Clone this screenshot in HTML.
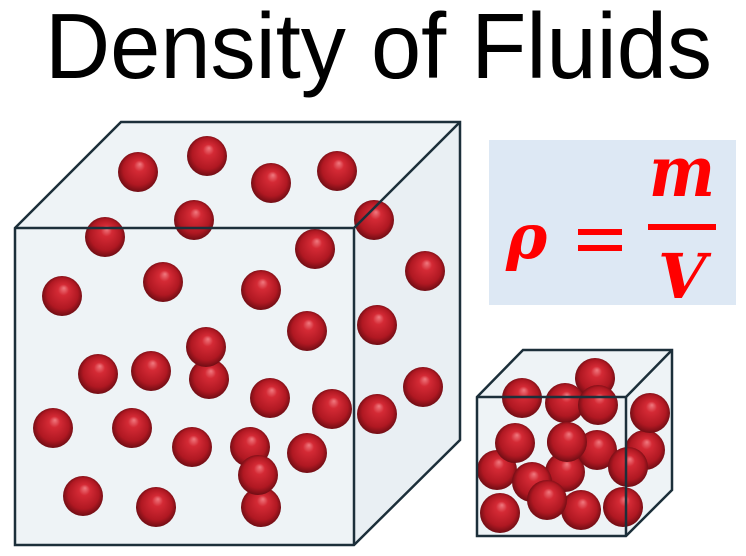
<!DOCTYPE html>
<html><head><meta charset="utf-8"><style>html,body{margin:0;padding:0;background:#fff;}svg{display:block}</style></head>
<body>
<svg width="746" height="556" viewBox="0 0 746 556" xmlns="http://www.w3.org/2000/svg">
<defs>
<radialGradient id="s" cx="0.5" cy="0.5" r="0.55" fx="0.55" fy="0.3">
<stop offset="0" stop-color="#f07a80"/>
<stop offset="0.25" stop-color="#d42a35"/>
<stop offset="0.7" stop-color="#b01822"/>
<stop offset="1" stop-color="#5e0a10"/>
</radialGradient>
</defs>
<text x="45" y="78" font-family="Liberation Sans, sans-serif" font-size="93" textLength="667" lengthAdjust="spacingAndGlyphs" fill="#000">Density of Fluids</text>

<!-- big cube -->
<polygon points="15,228 121,122 460,122 460,440 354,545 15,545" fill="#eef3f6"/>
<polygon points="354,228 460,122 460,440 354,545" fill="#e9eff3"/>
<g fill="url(#s)">
<circle cx="138" cy="172" r="20"/><circle cx="207" cy="156" r="20"/><circle cx="271" cy="183" r="20"/><circle cx="337" cy="171" r="20"/>
<circle cx="105" cy="237" r="20"/><circle cx="194" cy="220" r="20"/><circle cx="374" cy="220" r="20"/><circle cx="315" cy="249" r="20"/>
<circle cx="425" cy="271" r="20"/><circle cx="62" cy="296" r="20"/><circle cx="163" cy="282" r="20"/><circle cx="261" cy="290" r="20"/>
<circle cx="307" cy="331" r="20"/><circle cx="377" cy="325" r="20"/><circle cx="209" cy="379" r="20"/><circle cx="206" cy="347" r="20"/>
<circle cx="98" cy="374" r="20"/><circle cx="151" cy="371" r="20"/><circle cx="270" cy="398" r="20"/><circle cx="332" cy="409" r="20"/>
<circle cx="377" cy="414" r="20"/><circle cx="423" cy="387" r="20"/><circle cx="53" cy="428" r="20"/><circle cx="132" cy="428" r="20"/>
<circle cx="192" cy="447" r="20"/><circle cx="250" cy="447" r="20"/><circle cx="307" cy="453" r="20"/><circle cx="261" cy="507" r="20"/>
<circle cx="258" cy="475" r="20"/><circle cx="83" cy="496" r="20"/><circle cx="156" cy="507" r="20"/>
</g>
<g fill="none" stroke="#1c2f3a" stroke-width="2.5" stroke-linejoin="miter">
<polygon points="15,228 121,122 460,122 460,440 354,545 15,545"/>
<polyline points="15,228 354,228 460,122"/>
<line x1="354" y1="228" x2="354" y2="545"/>
</g>

<!-- formula -->
<rect x="489" y="140" width="247" height="165" fill="#dde8f4"/>
<text x="506" y="258" font-family="DejaVu Serif, serif" font-weight="bold" font-style="italic" font-size="62" fill="#ff0000">ρ</text>
<rect x="578" y="229" width="44" height="6" fill="#ff0000"/>
<rect x="578" y="245" width="44" height="6" fill="#ff0000"/>
<rect x="648" y="224" width="68" height="6" fill="#ff0000"/>
<text x="682" y="196" text-anchor="middle" font-family="DejaVu Serif, serif" font-weight="bold" font-style="italic" font-size="70" textLength="66" lengthAdjust="spacingAndGlyphs" fill="#ff0000">m</text>
<text x="682" y="298" text-anchor="middle" font-family="DejaVu Serif, serif" font-weight="bold" font-style="italic" font-size="62" fill="#ff0000">V</text>

<!-- small cube -->
<polygon points="477,397 523,350 672,350 672,490 626,536 477,536" fill="#eef3f6"/>
<g fill="url(#s)">
<circle cx="595" cy="378" r="20"/><circle cx="522" cy="398" r="20"/><circle cx="565" cy="403" r="20"/><circle cx="598" cy="405" r="20"/>
<circle cx="645" cy="450" r="20"/><circle cx="650" cy="413" r="20"/><circle cx="497" cy="470" r="20"/><circle cx="567" cy="442" r="20"/>
<circle cx="515" cy="443" r="20"/><circle cx="565" cy="472" r="20"/><circle cx="597" cy="450" r="20"/><circle cx="532" cy="482" r="20"/>
<circle cx="628" cy="467" r="20"/><circle cx="500" cy="513" r="20"/><circle cx="581" cy="510" r="20"/><circle cx="623" cy="507" r="20"/>
<circle cx="547" cy="500" r="20"/><circle cx="567" cy="442" r="20"/>
</g>
<g fill="none" stroke="#1c2f3a" stroke-width="2.5">
<polygon points="477,397 523,350 672,350 672,490 626,536 477,536"/>
<polyline points="477,397 626,397 672,350"/>
<line x1="626" y1="397" x2="626" y2="536"/>
</g>
</svg>
</body></html>
